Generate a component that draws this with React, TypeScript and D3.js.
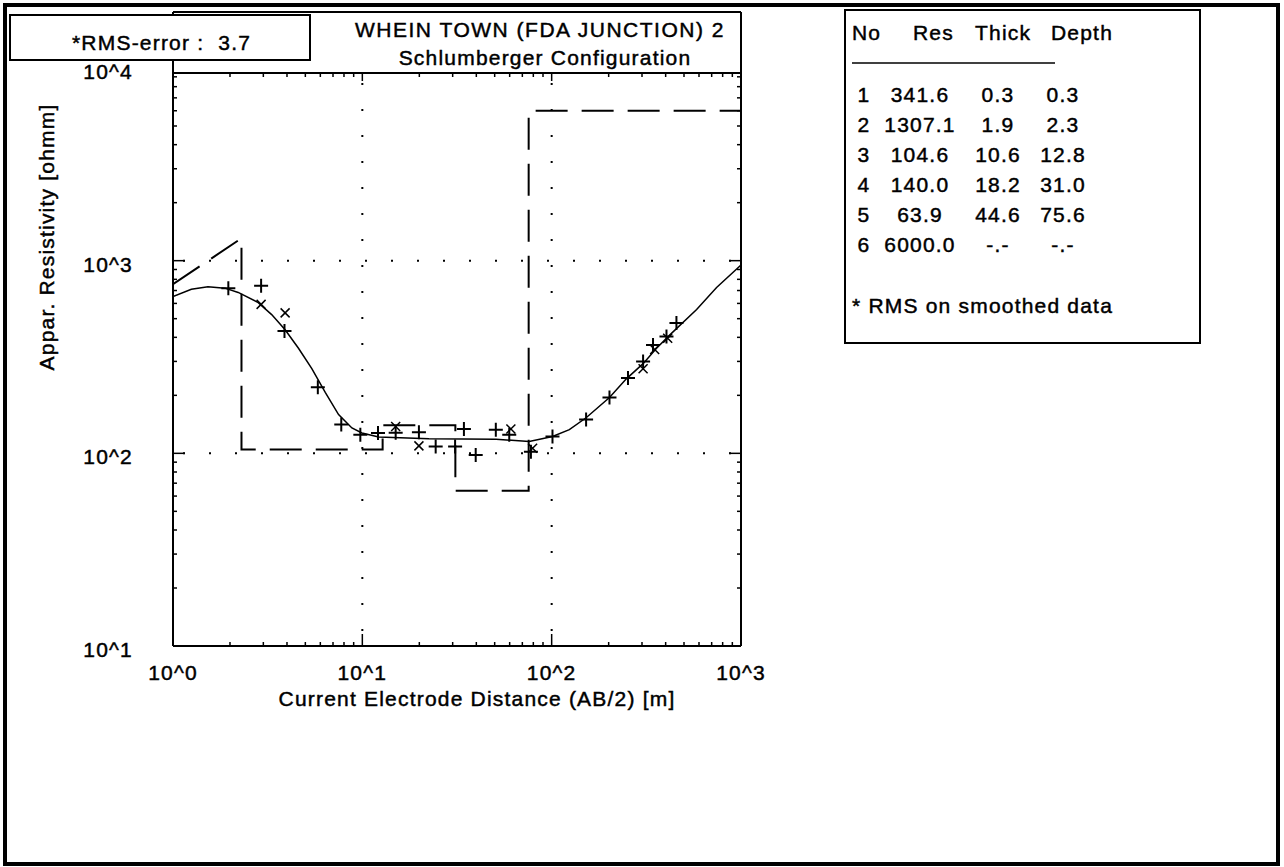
import React from 'react';
import * as d3 from 'd3';

// layered model (inversion result)
const layerNo = [1, 2, 3, 4, 5, 6];
const layerRes = [341.6, 1307.1, 104.6, 140.0, 63.9, 6000.0];
const layerThick = [0.3, 1.9, 10.6, 18.2, 44.6];
const layerDepth = [0.3, 2.3, 12.8, 31.0, 75.6];

// calculated apparent resistivity curve
const curveAB = [1, 1.25, 1.53, 1.88, 2.21, 2.82, 3.32, 3.91, 4.6, 5.41, 6.37, 7.49, 8.81, 9.95, 12.2, 22.5, 50.9, 76.1, 101, 124, 152, 202, 248, 304, 358, 421, 583, 743, 1000];
const curveRho = [651, 711, 732, 720, 684, 606, 525, 438, 351, 275, 207, 159, 135.5, 127.5, 121.5, 119, 118.3, 115.2, 122.4, 132.7, 153, 195, 243.6, 292, 351, 412, 558, 726, 949];

// field readings (+)
const obsAB = [1.96, 2.92, 3.88, 5.82, 7.74, 9.76, 12.1, 15.0, 19.9, 24.4, 30.9, 34.4, 39.7, 50.7, 59.7, 77.7, 101, 152, 202, 253, 304, 343, 404, 456];
const obsRho = [720, 742, 432, 220, 141, 125, 127.5, 128, 128.5, 108.4, 108.4, 133.9, 98, 132.7, 124.9, 102, 122.4, 150, 195, 246, 300, 365, 404, 475];

// smoothed readings (x)
const smoothAB = [2.92, 3.91, 15.0, 19.9, 60.9, 79.3, 304, 350, 410];
const smoothRho = [593, 536, 137.7, 109.3, 133.9, 106.3, 275, 346, 396];

const xDecades = [1, 10, 100, 1000];
const yDecades = [10, 100, 1000, 10000];
const xTickLabels = ['10^0', '10^1', '10^2', '10^3'];
const yTickLabels = ['10^1', '10^2', '10^3', '10^4'];

const W = 1284;
const H = 867;
const left = 173;
const right = 741;
const top = 73;
const bottom = 646;

const font = "'Liberation Sans', Arial, sans-serif";

export default function App() {
  const x = d3.scaleLog().domain([1, 1000]).range([left, right]);
  const y = d3.scaleLog().domain([10, 10000]).range([bottom, 68]);

  const line = d3.line<[number, number]>().x(d => x(d[0])).y(d => y(d[1]));

  const curvePts: [number, number][] = curveAB.map((a, i) => [a, curveRho[i]]);

  // model path: first two layers joined, then steps
  const modelPts: [number, number][] = [
    [layerDepth[0], layerRes[0]],
    [layerDepth[1], layerRes[1]],
  ];
  for (let i = 2; i < layerRes.length; i++) {
    const d1 = i < layerDepth.length ? layerDepth[i] : 1000;
    modelPts.push([layerDepth[i - 1], layerRes[i]]);
    modelPts.push([d1, layerRes[i]]);
  }

  // start a dash right at the left edge of the plot
  const x0 = x(layerDepth[0]), y0 = y(layerRes[0]);
  const x1 = x(layerDepth[1]), y1 = y(layerRes[1]);
  const offLen = (left - x0) * Math.hypot(x1 - x0, y1 - y0) / (x1 - x0);
  const dashPeriod = 46;
  const dashOffset = (dashPeriod - (offLen % dashPeriod)) % dashPeriod;

  const xMinor = x.ticks().filter(v => !xDecades.includes(v));
  const yMinor = y.ticks().filter(v => !yDecades.includes(v) && y(v) > top);

  const txt = { fontFamily: font, fontSize: 21, letterSpacing: 1.2, fill: '#000', stroke: '#000', strokeWidth: 0.45 } as const;

  return (
    <div style={{ position: 'absolute', left: 0, top: 0 }}>
      <svg width={W} height={H} style={{ display: 'block', background: '#fff' }}>
        <defs>
          <clipPath id="plot">
            <rect x={left} y={top} width={right - left} height={bottom - top} />
          </clipPath>
        </defs>

        {/* outer border */}
        <rect x={5} y={5} width={1273} height={859} fill="none" stroke="#000" strokeWidth={4} />

        {/* grid */}
        <g stroke="#000" strokeWidth={2} strokeDasharray="2 24">
          {[10, 100].map(v => (
            <line key={'gx' + v} x1={x(v)} x2={x(v)} y1={top + 10} y2={bottom} />
          ))}
          {[100, 1000].map(v => (
            <line key={'gy' + v} x1={left + 10} x2={right} y1={y(v)} y2={y(v)} />
          ))}
        </g>

        {/* frame */}
        <g stroke="#000" strokeWidth={2} fill="none">
          <line x1={left} x2={left} y1={12} y2={bottom} />
          <line x1={right} x2={right} y1={12} y2={bottom} />
          <line x1={left} x2={right} y1={12} y2={12} />
          <line x1={left} x2={right} y1={top} y2={top} />
          <line x1={left} x2={right} y1={bottom} y2={bottom} />
        </g>

        {/* ticks */}
        <g stroke="#000" strokeWidth={1.5}>
          {[10, 100].map(v => (
            <g key={'mx' + v}>
              <line x1={x(v)} x2={x(v)} y1={bottom} y2={bottom - 12} />
              <line x1={x(v)} x2={x(v)} y1={top} y2={top + 8} />
            </g>
          ))}
          {[100, 1000].map(v => (
            <g key={'my' + v}>
              <line x1={left} x2={left + 12} y1={y(v)} y2={y(v)} />
              <line x1={right} x2={right - 12} y1={y(v)} y2={y(v)} />
            </g>
          ))}
          {xMinor.map(v => (
            <g key={'nx' + v}>
              <line x1={x(v)} x2={x(v)} y1={bottom} y2={bottom - 4} />
              <line x1={x(v)} x2={x(v)} y1={top} y2={top + 4} />
            </g>
          ))}
          {yMinor.map(v => (
            <g key={'ny' + v}>
              <line x1={left} x2={left + 4} y1={y(v)} y2={y(v)} />
              <line x1={right} x2={right - 4} y1={y(v)} y2={y(v)} />
            </g>
          ))}
        </g>

        {/* model and calculated curve */}
        <g clipPath="url(#plot)" fill="none" stroke="#000">
          <path d={line(modelPts) || ''} strokeWidth={2} strokeDasharray="32 14" strokeDashoffset={dashOffset} />
          <path d={line(curvePts) || ''} strokeWidth={1.5} />
        </g>

        {/* observed + */}
        <g stroke="#000" strokeWidth={2}>
          {obsAB.map((a, i) => (
            <path key={'o' + i} transform={`translate(${x(a)},${y(obsRho[i])})`} d="M-7,0H7M0,-7V7" />
          ))}
        </g>
        {/* smoothed x */}
        <g stroke="#000" strokeWidth={1.5}>
          {smoothAB.map((a, i) => (
            <path key={'s' + i} transform={`translate(${x(a)},${y(smoothRho[i])})`} d="M-4.5,-4.5L4.5,4.5M-4.5,4.5L4.5,-4.5" />
          ))}
        </g>

        {/* axis labels */}
        {xDecades.map((v, i) => (
          <text key={'xl' + v} x={x(v)} y={680} textAnchor="middle" {...txt}>{xTickLabels[i]}</text>
        ))}
        {yDecades.map((v, i) => (
          <text key={'yl' + v} x={133} y={y(v) + 11} textAnchor="end" {...txt}>{yTickLabels[i]}</text>
        ))}
        <text x={477} y={706} textAnchor="middle" {...txt}>Current Electrode Distance (AB/2) [m]</text>
        <text transform="translate(54,237) rotate(-90)" textAnchor="middle" {...txt}>Appar. Resistivity [ohmm]</text>

        {/* RMS box */}
        <rect x={10} y={15} width={300} height={45} fill="#fff" stroke="#000" strokeWidth={2} />
        <text x={72} y={50} {...txt} style={{ whiteSpace: 'pre' }}>{'*RMS-error :  3.7'}</text>

        {/* title */}
        <text x={540} y={37} textAnchor="middle" {...txt} letterSpacing={1.5}>WHEIN TOWN (FDA JUNCTION) 2</text>
        <text x={545} y={65} textAnchor="middle" {...txt}>Schlumberger Configuration</text>

        {/* layer table */}
        <rect x={845} y={10} width={355} height={333} fill="none" stroke="#000" strokeWidth={2} />
        <text x={852} y={40} {...txt}>No</text>
        <text x={913} y={40} {...txt}>Res</text>
        <text x={975} y={40} {...txt}>Thick</text>
        <text x={1051} y={40} {...txt}>Depth</text>
        <line x1={852} x2={1055} y1={63} y2={63} stroke="#000" strokeWidth={1.5} />
        {layerNo.map((n, i) => (
          <g key={'row' + n}>
            <text x={864} y={102 + i * 30} textAnchor="middle" {...txt}>{n}</text>
            <text x={920} y={102 + i * 30} textAnchor="middle" {...txt}>{layerRes[i].toFixed(1)}</text>
            <text x={998} y={102 + i * 30} textAnchor="middle" {...txt}>{i < layerThick.length ? layerThick[i].toFixed(1) : '-.-'}</text>
            <text x={1063} y={102 + i * 30} textAnchor="middle" {...txt}>{i < layerDepth.length ? layerDepth[i].toFixed(1) : '-.-'}</text>
          </g>
        ))}
        <text x={852} y={313} {...txt}>* RMS on smoothed data</text>
      </svg>
    </div>
  );
}
